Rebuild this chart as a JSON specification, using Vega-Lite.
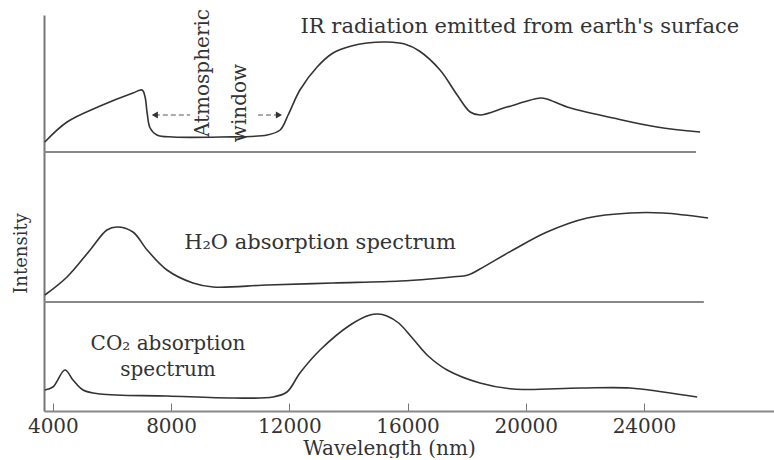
{
  "$schema": "https://vega.github.io/schema/vega-lite/v6.json",
  "width": 730,
  "height": 396,
  "padding": {"left": 12, "top": 8, "right": 0, "bottom": 0},
  "background": "white",
  "config": {
    "view": {"stroke": null},
    "font": "DejaVu Serif",
    "text": {"font": "DejaVu Serif", "fontSize": 19, "color": "#333"}
  },
  "datasets": {
    "ir": [
      {"w": 3730, "v": 10}, {"w": 4480, "v": 30}, {"w": 5600, "v": 46}, {"w": 6710, "v": 59},
      {"w": 7020, "v": 62}, {"w": 7120, "v": 55}, {"w": 7190, "v": 39}, {"w": 7290, "v": 24},
      {"w": 7520, "v": 17}, {"w": 8070, "v": 15}, {"w": 9660, "v": 15}, {"w": 11250, "v": 17},
      {"w": 11690, "v": 22}, {"w": 11960, "v": 37}, {"w": 12360, "v": 62}, {"w": 12940, "v": 85},
      {"w": 13480, "v": 99}, {"w": 14100, "v": 106}, {"w": 14630, "v": 109}, {"w": 15300, "v": 110},
      {"w": 15900, "v": 108}, {"w": 16400, "v": 101}, {"w": 17100, "v": 82}, {"w": 17680, "v": 57},
      {"w": 18120, "v": 40}, {"w": 18450, "v": 37}, {"w": 19370, "v": 45}, {"w": 20490, "v": 54},
      {"w": 20720, "v": 53}, {"w": 21400, "v": 45}, {"w": 22960, "v": 34}, {"w": 24440, "v": 25},
      {"w": 25900, "v": 20}
    ],
    "h2o": [
      {"w": 3730, "v": 7}, {"w": 4480, "v": 25}, {"w": 5260, "v": 52}, {"w": 5830, "v": 72},
      {"w": 6170, "v": 75}, {"w": 6710, "v": 70}, {"w": 7190, "v": 52}, {"w": 7860, "v": 32},
      {"w": 8740, "v": 19}, {"w": 9420, "v": 15}, {"w": 11250, "v": 17}, {"w": 13480, "v": 19},
      {"w": 15750, "v": 21}, {"w": 16760, "v": 23}, {"w": 17500, "v": 25}, {"w": 18050, "v": 27},
      {"w": 18450, "v": 33}, {"w": 19570, "v": 52}, {"w": 20720, "v": 70}, {"w": 22080, "v": 84},
      {"w": 23530, "v": 89}, {"w": 24650, "v": 89}, {"w": 26170, "v": 84}
    ],
    "co2": [
      {"w": 3730, "v": 21}, {"w": 4000, "v": 24}, {"w": 4410, "v": 41}, {"w": 4680, "v": 31},
      {"w": 5020, "v": 21}, {"w": 5600, "v": 17}, {"w": 7860, "v": 15}, {"w": 10100, "v": 13},
      {"w": 11450, "v": 14}, {"w": 11920, "v": 19}, {"w": 12360, "v": 38}, {"w": 13040, "v": 61},
      {"w": 14060, "v": 86}, {"w": 14730, "v": 96}, {"w": 15000, "v": 97}, {"w": 15300, "v": 95},
      {"w": 15700, "v": 88}, {"w": 16190, "v": 72}, {"w": 16700, "v": 55}, {"w": 17340, "v": 41},
      {"w": 18450, "v": 28}, {"w": 19570, "v": 22}, {"w": 21840, "v": 23}, {"w": 23530, "v": 23},
      {"w": 24650, "v": 19}, {"w": 25800, "v": 14}
    ],
    "labels": [
      {"panel": "ir", "text": "IR radiation emitted from earth's surface", "w": 19800, "v": 125},
      {"panel": "h2o", "text": "H₂O absorption spectrum", "w": 13040, "v": 59},
      {"panel": "co2", "text": "CO₂ absorption", "w": 7896, "v": 67},
      {"panel": "co2", "text": "spectrum", "w": 7896, "v": 41}
    ],
    "vlabels": [
      {"text": "Atmospheric", "w": 9081, "v": 79},
      {"text": "window", "w": 10333, "v": 49}
    ],
    "arrows": [
      {"w": 7450, "w2": 8640, "v": 37, "dir": "left"},
      {"w": 11650, "w2": 10840, "v": 37, "dir": "right"}
    ]
  },
  "encoding": {
    "x": {
      "field": "w",
      "type": "quantitative",
      "scale": {"domain": [3700, 28400], "nice": false, "zero": false},
      "axis": {
        "title": "Wavelength (nm)",
        "values": [4000, 8000, 12000, 16000, 20000, 24000],
        "format": "d",
        "grid": false,
        "tickSize": -8,
        "tickColor": "#777",
        "domainColor": "#888",
        "domainWidth": 2,
        "labelFont": "DejaVu Serif",
        "labelFontSize": 20,
        "labelColor": "#333",
        "labelPadding": 13,
        "titleFont": "DejaVu Serif",
        "titleFontSize": 20,
        "titleFontWeight": "normal",
        "titleColor": "#333",
        "titleX": 345,
        "titlePadding": 2
      }
    }
  },
  "layer": [
    {
      "layer": [
        {
          "data": {"name": "co2"},
          "mark": {"type": "line", "interpolate": "catmull-rom", "color": "#333", "strokeWidth": 1.6},
          "encoding": {
            "y": {
              "field": "v",
              "type": "quantitative",
              "scale": {"domain": [0, 396], "nice": false, "zero": false},
              "axis": {
                "title": "Intensity",
                "orient": "left",
                "ticks": false,
                "labels": false,
                "grid": false,
                "domainColor": "#777",
                "domainWidth": 2,
                "titleFont": "DejaVu Serif",
                "titleFontSize": 18,
                "titleFontWeight": "normal",
                "titleColor": "#333",
                "titlePadding": 14,
                "titleY": 238
              }
            }
          }
        },
        {
          "data": {"name": "labels"},
          "transform": [{"filter": "datum.panel == 'co2'"}],
          "mark": {"type": "text", "align": "center", "baseline": "middle", "fontSize": 20},
          "encoding": {
            "y": {"field": "v", "type": "quantitative"},
            "text": {"field": "text"}
          }
        }
      ]
    },
    {
      "layer": [
        {
          "data": {"name": "h2o"},
          "mark": {"type": "line", "interpolate": "catmull-rom", "color": "#333", "strokeWidth": 1.6},
          "encoding": {
            "y": {
              "field": "v",
              "type": "quantitative",
              "scale": {"domain": [-109, 287], "nice": false, "zero": false},
              "axis": null
            }
          }
        },
        {
          "data": {"name": "h2o"},
          "mark": {"type": "rule", "color": "#888", "strokeWidth": 2},
          "encoding": {
            "x": {"datum": 3700},
            "x2": {"datum": 26000},
            "y": {"datum": 0, "type": "quantitative"}
          }
        },
        {
          "data": {"name": "labels"},
          "transform": [{"filter": "datum.panel == 'h2o'"}],
          "mark": {"type": "text", "align": "center", "baseline": "middle", "fontSize": 21},
          "encoding": {
            "y": {"field": "v", "type": "quantitative"},
            "text": {"field": "text"}
          }
        }
      ]
    },
    {
      "layer": [
        {
          "data": {"name": "ir"},
          "mark": {"type": "line", "interpolate": "catmull-rom", "color": "#333", "strokeWidth": 1.6},
          "encoding": {
            "y": {
              "field": "v",
              "type": "quantitative",
              "scale": {"domain": [-259, 137], "nice": false, "zero": false},
              "axis": null
            }
          }
        },
        {
          "data": {"name": "ir"},
          "mark": {"type": "rule", "color": "#888", "strokeWidth": 2},
          "encoding": {
            "x": {"datum": 3700},
            "x2": {"datum": 25730},
            "y": {"datum": 0, "type": "quantitative"}
          }
        },
        {
          "data": {"name": "labels"},
          "transform": [{"filter": "datum.panel == 'ir'"}],
          "mark": {"type": "text", "align": "center", "baseline": "middle", "fontSize": 21},
          "encoding": {
            "y": {"field": "v", "type": "quantitative"},
            "text": {"field": "text"}
          }
        },
        {
          "data": {"name": "vlabels"},
          "mark": {"type": "text", "align": "center", "baseline": "middle", "angle": 270, "fontSize": 20},
          "encoding": {
            "y": {"field": "v", "type": "quantitative"},
            "text": {"field": "text"}
          }
        },
        {
          "data": {"name": "arrows"},
          "mark": {"type": "rule", "color": "#555", "strokeWidth": 1, "strokeDash": [5, 3]},
          "encoding": {
            "x2": {"field": "w2"},
            "y": {"field": "v", "type": "quantitative"}
          }
        },
        {
          "data": {"name": "arrows"},
          "mark": {"type": "point", "filled": true, "color": "#333", "size": 50, "opacity": 1},
          "encoding": {
            "y": {"field": "v", "type": "quantitative"},
            "shape": {
              "field": "dir",
              "type": "nominal",
              "scale": {"domain": ["left", "right"], "range": ["triangle-left", "triangle-right"]},
              "legend": null
            }
          }
        }
      ]
    }
  ],
  "resolve": {"scale": {"y": "independent"}, "axis": {"y": "independent"}}
}
